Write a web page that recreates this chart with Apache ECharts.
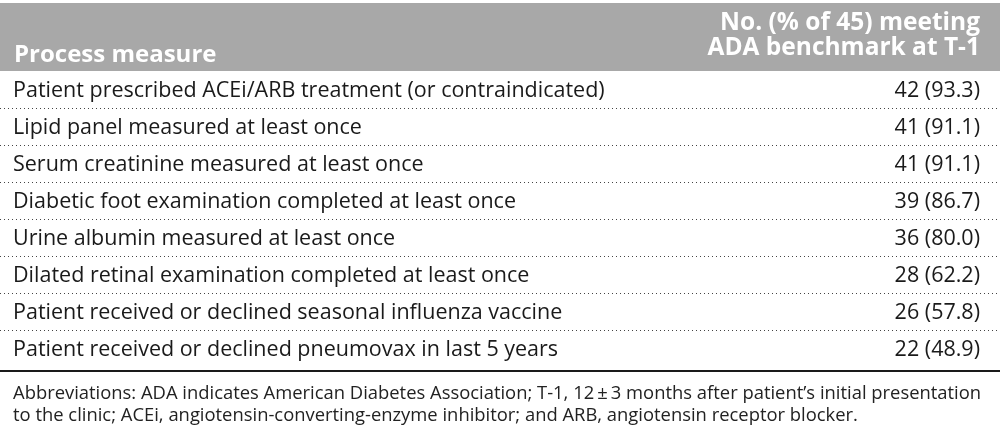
<!DOCTYPE html>
<html>
<head>
<meta charset="utf-8">
<script src="https://cdn.jsdelivr.net/npm/echarts@6/dist/echarts.min.js"></script>
<style>
html,body{margin:0;padding:0;background:#fff;}
#chart{width:1000px;height:428px;}
</style>
</head>
<body>
<div id="chart"></div>
<script>
const headerLeft = 'Process measure';
const headerRight = ['No. (% of 45) meeting', 'ADA benchmark at T-1'];
const measures = [
  'Patient prescribed ACEi/ARB treatment (or contraindicated)',
  'Lipid panel measured at least once',
  'Serum creatinine measured at least once',
  'Diabetic foot examination completed at least once',
  'Urine albumin measured at least once',
  'Dilated retinal examination completed at least once',
  'Patient received or declined seasonal influenza vaccine',
  'Patient received or declined pneumovax in last 5 years'
];
const counts = [42, 41, 41, 39, 36, 28, 26, 22];
const percents = [93.3, 91.1, 91.1, 86.7, 80.0, 62.2, 57.8, 48.9];
const footnote = [
  'Abbreviations: ADA indicates American Diabetes Association; T-1, 12\u2009\u00b1\u20093 months after patient\u2019s initial presentation',
  'to the clinic; ACEi, angiotensin-converting-enzyme inhibitor; and ARB, angiotensin receptor blocker.'
];

const FONT = '"Open Sans", "Noto Sans", sans-serif';
const chart = echarts.init(document.getElementById('chart'), null, {renderer: 'canvas'});

const rows = measures.map((m, i) => [i, m, counts[i] + ' (' + percents[i].toFixed(1) + ')']);

chart.setOption({
  animation: false,
  backgroundColor: '#ffffff',
  grid: {left: 0, right: 0, top: 71, bottom: 57},
  xAxis: {
    type: 'value', min: 0, max: 1000,
    axisLine: {show: true, onZero: false, lineStyle: {color: '#1a1a1a', width: 2}},
    axisTick: {show: false}, axisLabel: {show: false}, splitLine: {show: false}
  },
  yAxis: {
    type: 'value', min: 0, max: 8.1, inverse: true, show: false,
    splitLine: {show: false}
  },
  graphic: [
    {type: 'rect', left: 0, top: 3, shape: {width: 1000, height: 68}, style: {fill: '#a8a8a8'}, z: 0},
    {type: 'text', x: 14, y: 55, style: {text: headerLeft, fill: '#ffffff', font: 'bold 24px ' + FONT, align: 'left', verticalAlign: 'middle'}},
    {type: 'text', x: 980, y: 23, style: {text: headerRight[0], fill: '#ffffff', font: 'bold 24.5px ' + FONT, align: 'right', verticalAlign: 'middle'}},
    {type: 'text', x: 980, y: 48, style: {text: headerRight[1], fill: '#ffffff', font: 'bold 24.5px ' + FONT, align: 'right', verticalAlign: 'middle'}},
    {type: 'text', x: 13, y: 394, style: {text: footnote[0], fill: '#222222', font: '18.4px ' + FONT, align: 'left', verticalAlign: 'middle'}},
    {type: 'text', x: 13, y: 416, style: {text: footnote[1], fill: '#222222', font: '18.4px ' + FONT, align: 'left', verticalAlign: 'middle'}}
  ],
  series: [{
    type: 'custom',
    data: rows,
    clip: false,
    renderItem: function (params, api) {
      const i = api.value(0);
      const idx = params.dataIndex;
      const left = api.coord([13, i + 0.54]);
      const right = api.coord([980, i + 0.54]);
      const children = [
        {type: 'text', x: left[0], y: left[1], style: {text: measures[idx], fill: '#1a1a1a', font: '21.5px ' + FONT, align: 'left', verticalAlign: 'middle', textAlign: 'left', textVerticalAlign: 'middle'}},
        {type: 'text', x: right[0], y: right[1], style: {text: rows[idx][2], fill: '#1a1a1a', font: '21.5px ' + FONT, align: 'right', verticalAlign: 'middle', textAlign: 'right', textVerticalAlign: 'middle'}}
      ];
      if (idx < measures.length - 1) {
        const a = api.coord([0, i + 1]);
        const b = api.coord([1000, i + 1]);
        children.push({type: 'line', shape: {x1: a[0], y1: Math.round(a[1]) + 0.5, x2: b[0], y2: Math.round(b[1]) + 0.5},
          style: {stroke: '#444444', lineWidth: 1, lineDash: [1, 3]}});
      }
      return {type: 'group', children: children};
    }
  }]
});
</script>
</body>
</html>
